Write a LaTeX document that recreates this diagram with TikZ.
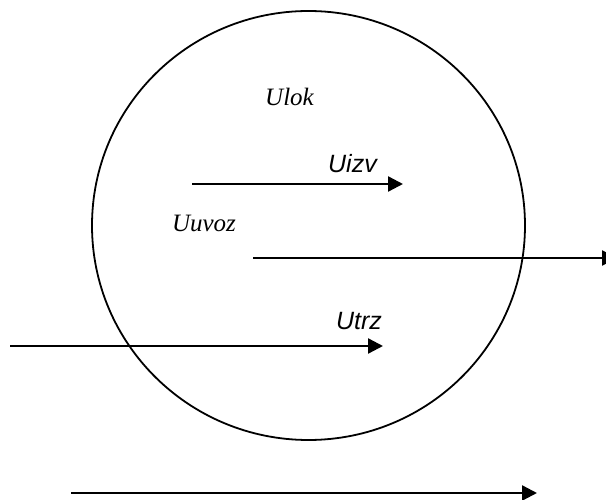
\documentclass[tikz,border=0pt]{standalone}
\usepackage{fontspec}
\newfontfamily\serifit{Liberation Serif}[ItalicFont=* Italic]
\newfontfamily\sansit{Liberation Sans}[ItalicFont=* Italic]
\usetikzlibrary{arrows.meta,shapes.geometric}
\begin{document}
\begin{tikzpicture}[x=1pt,y=-1pt,
  arr/.style={line width=2.4pt,-{Triangle[length=15pt,width=15pt]}},
  lbl/.style={anchor=base,inner sep=0pt,font=\fontsize{25}{30}\selectfont}]
\useasboundingbox (0,0) rectangle (606,500);
\clip (0,0) rectangle (606,500);
\node[draw,ellipse,line width=1.8pt,minimum width=433pt,minimum height=429pt,inner sep=0pt] (circ) at (308.5,225.5) {};
\node[lbl] (ulok) at (289.5,106) {\serifit\itshape Ulok};
\node[lbl] (uizv) at (352.5,172.5) {\sansit\itshape Uizv};
\node[lbl] (uuvoz) at (204,232) {\serifit\itshape Uuvoz};
\node[lbl] (utrz) at (359,330) {\sansit\itshape Utrz};
\coordinate (a1) at (192,184); \coordinate (b1) at (403,184);
\coordinate (a2) at (253,258); \coordinate (b2) at (617,258);
\coordinate (a3) at (10,346); \coordinate (b3) at (383,346);
\coordinate (a4) at (71,493); \coordinate (b4) at (537,493);
\draw[arr] (a1) -- (b1);
\draw[arr] (a2) -- (b2);
\draw[arr] (a3) -- (b3);
\draw[arr] (a4) -- (b4);
\end{tikzpicture}
\end{document}
